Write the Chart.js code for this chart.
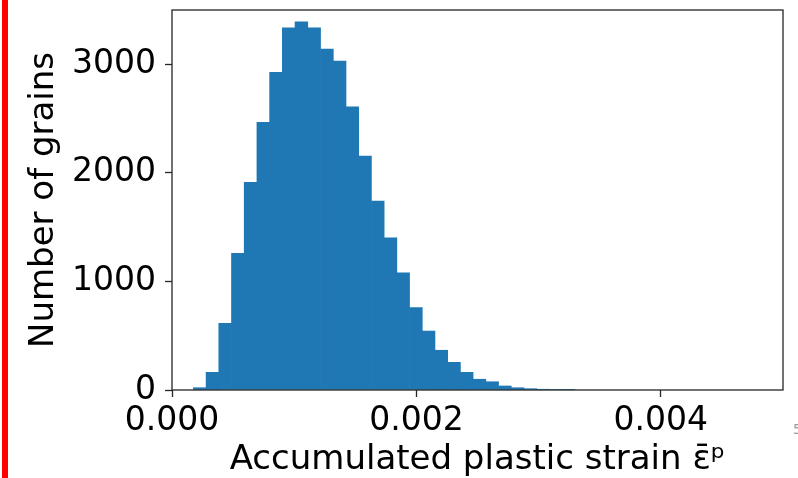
<!DOCTYPE html>
<html>
<head>
<meta charset="utf-8">
<script src="https://cdn.jsdelivr.net/npm/chart.js@4.4.0/dist/chart.umd.min.js"></script>
<style>
  html, body { margin: 0; padding: 0; background: #fff; overflow: hidden; }
  #wrap { position: relative; width: 798px; height: 478px; }
  #redBar { position: absolute; left: 2px; top: 0; width: 6px; height: 478px; background: #ff0000; }
  #stray { position: absolute; left: 793px; top: 421px; font: 14px "DejaVu Sans"; color: #999; }
</style>
</head>
<body>
<div id="wrap">
  <canvas id="grafico" width="798" height="478"></canvas>
  <div id="redBar"></div>
  <div id="stray">5</div>
</div>
<script>
// bin centres (strain) and counts
const binCenters = [
  0.000227, 0.000331, 0.000435, 0.000539, 0.000643, 0.000747, 0.000851, 0.000955,
  0.001059, 0.001163, 0.001268, 0.001372, 0.001476, 0.001580, 0.001684, 0.001788,
  0.001892, 0.001996, 0.002100, 0.002204, 0.002308, 0.002412, 0.002516, 0.002620,
  0.002724, 0.002828, 0.002933, 0.003037, 0.003141, 0.003245
];
const grainCounts = [
  21, 163, 614, 1259, 1913, 2465, 2925, 3336,
  3391, 3336, 3140, 3029, 2609, 2155, 1740, 1402,
  1080, 758, 543, 366, 255, 163, 99, 76,
  37, 21, 12, 7, 4, 2
];
const xTicks = [0, 0.002, 0.004];
const yTicks = [0, 1000, 2000, 3000];

const fuente = "DejaVu Sans";
const gris = "#262626";

// matplotlib style box around the plot
const marco = {
  id: "marco",
  afterDatasetsDraw(chart) {
    const { ctx, chartArea: a } = chart;
    ctx.save();
    ctx.strokeStyle = gris;
    ctx.lineWidth = 1.3;
    ctx.strokeRect(a.left, a.top, a.right - a.left, a.bottom - a.top);
    ctx.restore();
  }
};

const rejilla = {
  display: true,
  drawOnChartArea: false,
  drawTicks: true,
  offset: false,
  tickLength: 7,
  tickWidth: 1.3,
  tickColor: gris
};

const ctx = document.getElementById("grafico").getContext("2d");
new Chart(ctx, {
  type: "bar",
  data: {
    datasets: [{
      data: binCenters.map((x, i) => ({ x: x, y: grainCounts[i] })),
      backgroundColor: "#1f77b4",
      borderWidth: 0,
      barThickness: "flex",
      barPercentage: 1,
      categoryPercentage: 1
    }]
  },
  options: {
    responsive: false,
    animation: false,
    devicePixelRatio: 1,
    layout: { padding: { left: 0, right: 15, top: 10, bottom: 0 } },
    plugins: { legend: { display: false }, tooltip: { enabled: false } },
    scales: {
      x: {
        type: "linear",
        offset: false,
        min: 0,
        max: 0.005,
        afterBuildTicks: s => { s.ticks = xTicks.map(v => ({ value: v })); },
        afterFit: s => { s.height = 88; s.paddingLeft = 0; s.paddingRight = 0; },
        grid: rejilla,
        border: { display: false },
        ticks: {
          color: "#000",
          font: { family: fuente, size: 33, lineHeight: 1 },
          padding: 8,
          maxRotation: 0,
          callback: v => v.toFixed(3)
        },
        title: {
          display: true,
          text: "Accumulated plastic strain ε̄ᵖ",
          color: "#000",
          font: { family: fuente, size: 34, lineHeight: 1 },
          padding: { top: 0, bottom: 0.5 }
        }
      },
      y: {
        min: 0,
        max: 3500,
        afterBuildTicks: s => { s.ticks = yTicks.map(v => ({ value: v })); },
        afterFit: s => { s.width = 172; s.paddingTop = 0; s.paddingBottom = 0; },
        grid: rejilla,
        border: { display: false },
        ticks: {
          color: "#000",
          font: { family: fuente, size: 33 },
          padding: 9,
          callback: v => String(v)
        },
        title: {
          display: true,
          text: "Number of grains",
          color: "#000",
          font: { family: fuente, size: 34, lineHeight: 1.2 },
          padding: { top: 24, bottom: 0 }
        }
      }
    }
  },
  plugins: [marco]
});
</script>
</body>
</html>
